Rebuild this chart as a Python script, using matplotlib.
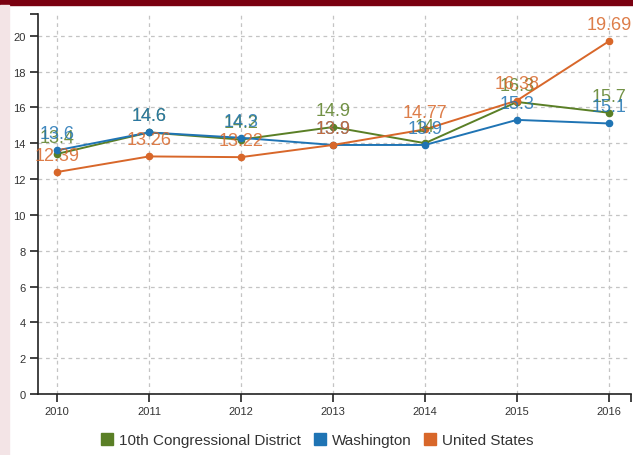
import matplotlib
matplotlib.use('Agg')
import matplotlib.pyplot as plt
from matplotlib.lines import Line2D
from matplotlib.patches import Rectangle

plt.rcParams['font.family'] = ['Liberation Sans', 'DejaVu Sans']

# data
years = [2010, 2011, 2012, 2013, 2014, 2015, 2016]
district = [13.4, 14.6, 14.2, 14.9, 14.0, 16.3, 15.7]
washington = [13.6, 14.6, 14.3, 13.9, 13.9, 15.3, 15.1]
united_states = [12.39, 13.26, 13.22, 13.9, 14.77, 16.38, 19.69]
series_names = ['10th Congressional District', 'Washington', 'United States']
colors = ['#5a7f26', '#1f74b4', '#d8672a']
yticks = [0, 2, 4, 6, 8, 10, 12, 14, 16, 18, 20]

fig = plt.figure(figsize=(6.33, 4.56), dpi=100)
fig.patch.set_facecolor('white')
# page decoration: dark band on top, pale strip on the left
fig.patches.append(Rectangle((0, 1 - 6 / 456), 1, 6 / 456, transform=fig.transFigure,
                             color='#7a0010', zorder=0))
fig.patches.append(Rectangle((0, 0), 9 / 633, 1 - 6 / 456, transform=fig.transFigure,
                             color='#f3e4e6', zorder=0))

ax = fig.add_axes([38 / 633, 1 - 395 / 456, (631 - 38) / 633, (395 - 15) / 456])
ax.set_xlim(2009.793, 2016.24)
ax.set_ylim(0, 21.21)

all_series = [district, washington, united_states]
for vals, col in zip(all_series, colors):
    ax.plot(years, vals, color=col, lw=1.4, marker='o', ms=4.5, zorder=3)
for vals, col in zip(all_series, colors):
    for x, y in zip(years, vals):
        ax.annotate(f'{y:g}', (x, y), xytext=(0, 12), textcoords='offset points',
                    ha='center', va='center', fontsize=13, color=col, alpha=0.85,
                    annotation_clip=False, zorder=4)

ax.set_xticks(years)
ax.set_xticklabels([str(y) for y in years])
ax.set_yticks(yticks)
ax.grid(True, color='#c4c4c4', ls=(0, (3, 3)), lw=0.9)
ax.set_axisbelow(True)
for s in ['top', 'right']:
    ax.spines[s].set_visible(False)
for s in ['left', 'bottom']:
    ax.spines[s].set_linewidth(1.2)
    ax.spines[s].set_color('#222222')
ax.tick_params(axis='both', direction='out', length=6, width=1.2, color='#222222',
               labelsize=8, labelcolor='#333333', pad=3)
# end caps of the axes
ax.set_yticks([21.21], minor=True)
ax.set_xticks([2016.24], minor=True)
ax.tick_params(which='minor', length=6, width=1.2, color='#222222')

handles = [Line2D([], [], ls='none', marker='s', ms=9, color=c) for c in colors]
fig.legend(handles, series_names, loc='center', bbox_to_anchor=(0.5, 1 - 441 / 456),
           ncol=3, frameon=False, fontsize=11, handletextpad=0.3, columnspacing=0.7,
           handlelength=1.0, labelcolor='#333333')

fig.savefig('out.png', dpi=100)
